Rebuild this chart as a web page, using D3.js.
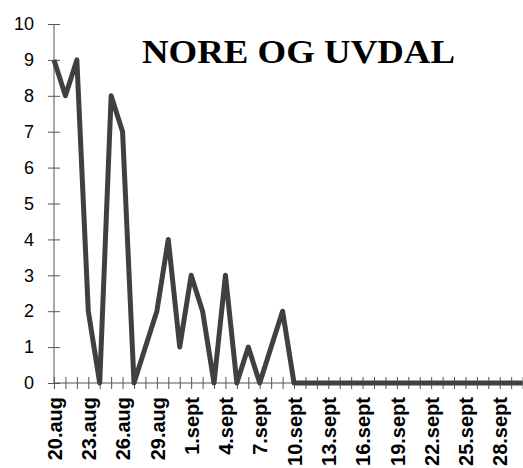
<!DOCTYPE html>
<html>
<head>
<meta charset="utf-8">
<script src="https://cdn.jsdelivr.net/npm/d3@7"></script>
<style>
  html, body { margin: 0; padding: 0; background: #fff; }
  svg { display: block; }
</style>
</head>
<body>
<script>
const title = "NORE OG UVDAL";
const categories = [
  "20.aug","21.aug","22.aug","23.aug","24.aug","25.aug","26.aug","27.aug","28.aug","29.aug","30.aug","31.aug",
  "1.sept","2.sept","3.sept","4.sept","5.sept","6.sept","7.sept","8.sept","9.sept","10.sept",
  "11.sept","12.sept","13.sept","14.sept","15.sept","16.sept","17.sept","18.sept","19.sept","20.sept",
  "21.sept","22.sept","23.sept","24.sept","25.sept","26.sept","27.sept","28.sept","29.sept","30.sept"
];
const values = [
  9, 8, 9, 2, 0, 8, 7, 0, 1, 2, 4, 1,
  3, 2, 0, 3, 0, 1, 0, 1, 2, 0,
  0, 0, 0, 0, 0, 0, 0, 0, 0, 0,
  0, 0, 0, 0, 0, 0, 0, 0, 0, 0
];
const tickLabels = ["20.aug","23.aug","26.aug","29.aug","1.sept","4.sept","7.sept","10.sept","13.sept","16.sept","19.sept","22.sept","25.sept","28.sept"];
const yTicks = [0,1,2,3,4,5,6,7,8,9,10];

const W = 523, H = 468;
const svg = d3.select("body").append("svg").attr("width", W).attr("height", H);

const x = d3.scalePoint().domain(categories).range([54, 522.6]);
const y = d3.scaleLinear().domain([0, 10]).range([383, 24]);

const axisColor = "#555";

// Y axis
const yAxis = svg.append("g").attr("transform", "translate(54,0)")
  .call(d3.axisLeft(y).tickValues(yTicks).tickSize(6).tickPadding(14));
yAxis.select(".domain").attr("stroke", axisColor).attr("d", `M0,${y(10)}V${y(0)}`);
yAxis.selectAll(".tick line").attr("stroke", axisColor).attr("x1", 6);
yAxis.selectAll(".tick text")
  .attr("font-family", "Arial, 'Liberation Sans', sans-serif")
  .attr("font-size", "18px").attr("fill", "#000");

// X axis
const labelSet = new Set(tickLabels);
const xAxis = svg.append("g").attr("transform", `translate(0,${y(0)})`)
  .call(d3.axisBottom(x).tickSize(6).tickFormat(d => labelSet.has(d) ? d : ""));
xAxis.select(".domain").attr("stroke", axisColor).attr("d", `M54,0H${W}`);
xAxis.selectAll(".tick line").attr("stroke", axisColor).attr("y1", -6);
xAxis.selectAll(".tick text")
  .attr("font-family", "Arial, 'Liberation Sans', sans-serif")
  .attr("font-weight", "bold")
  .attr("font-size", "20px").attr("fill", "#000")
  .attr("text-anchor", "end")
  .attr("transform", "rotate(-90)")
  .attr("x", -14).attr("y", 0).attr("dy", "0.36em");

// Line
const line = d3.line().x((d, i) => x(categories[i])).y(d => y(d));
svg.append("path").datum(values)
  .attr("d", line)
  .attr("fill", "none")
  .attr("stroke", "#404040")
  .attr("stroke-width", 5)
  .attr("stroke-linejoin", "round");

// Title
svg.append("text")
  .attr("x", 142).attr("y", 63)
  .attr("font-family", "'Times New Roman', 'Liberation Serif', serif")
  .attr("font-weight", "bold")
  .attr("font-size", "34px")
  .attr("textLength", 313)
  .attr("lengthAdjust", "spacingAndGlyphs")
  .text(title);
</script>
</body>
</html>
